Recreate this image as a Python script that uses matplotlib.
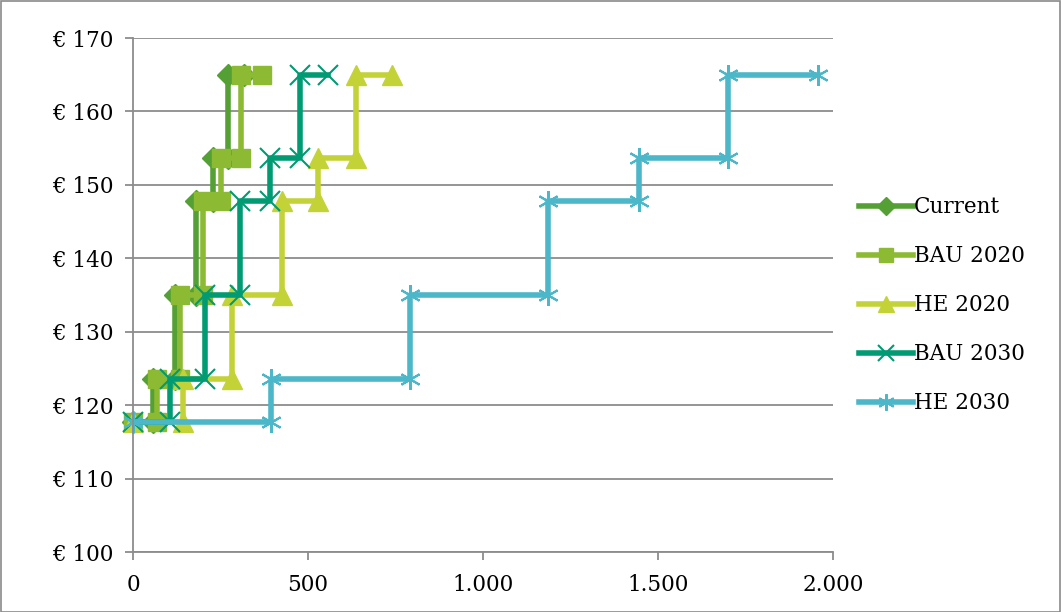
import matplotlib
matplotlib.use("Agg")
import matplotlib.pyplot as plt
from matplotlib.patches import Rectangle

plt.rcParams["font.family"] = ["DejaVu Serif"]
plt.rcParams["font.size"] = 15.5

# price levels (EUR) of the supply steps
levels = [117.7, 123.5, 135.0, 147.8, 153.6, 165.0]

# cumulative quantity at the end of each step (start is 0)
current = [0, 57, 120, 180, 229, 272, 318]
bau_2020 = [0, 69, 134, 200, 252, 309, 369]
he_2020 = [0, 143, 283, 426, 529, 638, 741]
bau_2030 = [0, 106, 206, 306, 392, 478, 558]
he_2030 = [0, 395, 790, 1185, 1445, 1700, 1958]

series_names = ["Current", "BAU 2020", "HE 2020", "BAU 2030", "HE 2030"]
series_data = [current, bau_2020, he_2020, bau_2030, he_2030]
colors = ["#55a035", "#8cba33", "#c3d337", "#009a73", "#4bb7c9"]
markers = ["D", "s", "^", "x", (6, 2, 0)]
msizes = [11, 13, 14, 14, 15]
mews = [1, 1, 1, 1.5, 1.5]

ticks_x = [0, 500, 1000, 1500, 2000]
ticks_x_lbl = ["0", "500", "1.000", "1.500", "2.000"]
ticks_y = [100, 110, 120, 130, 140, 150, 160, 170]


def steps(cum):
    xs, ys = [], []
    for i, lv in enumerate(levels):
        xs += [cum[i], cum[i + 1]]
        ys += [lv, lv]
    return xs, ys


fig = plt.figure(figsize=(10.61, 6.12), dpi=100)
ax = fig.add_axes([133 / 1061, 1 - 552 / 612, 700 / 1061, 514 / 612])
fig.patches.append(Rectangle((0.5 / 1061, 0.5 / 612), 1 - 1.5 / 1061, 1 - 1.5 / 612,
                             transform=fig.transFigure, fill=False,
                             edgecolor="#8a8a8a", linewidth=1.2))

for name, cum, c, m, ms, mw in zip(series_names, series_data, colors, markers, msizes, mews):
    xs, ys = steps(cum)
    ax.plot(xs, ys, color=c, lw=4, marker=m, ms=ms, mfc=c, mec=c, mew=mw,
            label=name, clip_on=False)

ax.set_xlim(0, 2000)
ax.set_ylim(100, 170)
ax.set_xticks(ticks_x)
ax.set_xticklabels(ticks_x_lbl)
ax.set_yticks(ticks_y)
ax.set_yticklabels([f"€ {v}" for v in ticks_y])
ax.grid(axis="y", color="#8c8c8c", lw=1.3)
ax.set_axisbelow(True)
for s in ["top", "right"]:
    ax.spines[s].set_visible(False)
for s in ["left", "bottom"]:
    ax.spines[s].set_color("#8c8c8c")
    ax.spines[s].set_linewidth(1.3)
ax.tick_params(axis="both", colors="#8c8c8c", length=6, width=1.3, labelcolor="black")
ax.tick_params(axis="x", pad=10)
ax.tick_params(axis="y", pad=8)

ax.legend(loc="center left", bbox_to_anchor=(1.025, 0.48), frameon=False,
          handlelength=2.5, handletextpad=0.05, labelspacing=1.25, borderaxespad=0,
          markerscale=0.8)

fig.savefig("out.png", dpi=100)
